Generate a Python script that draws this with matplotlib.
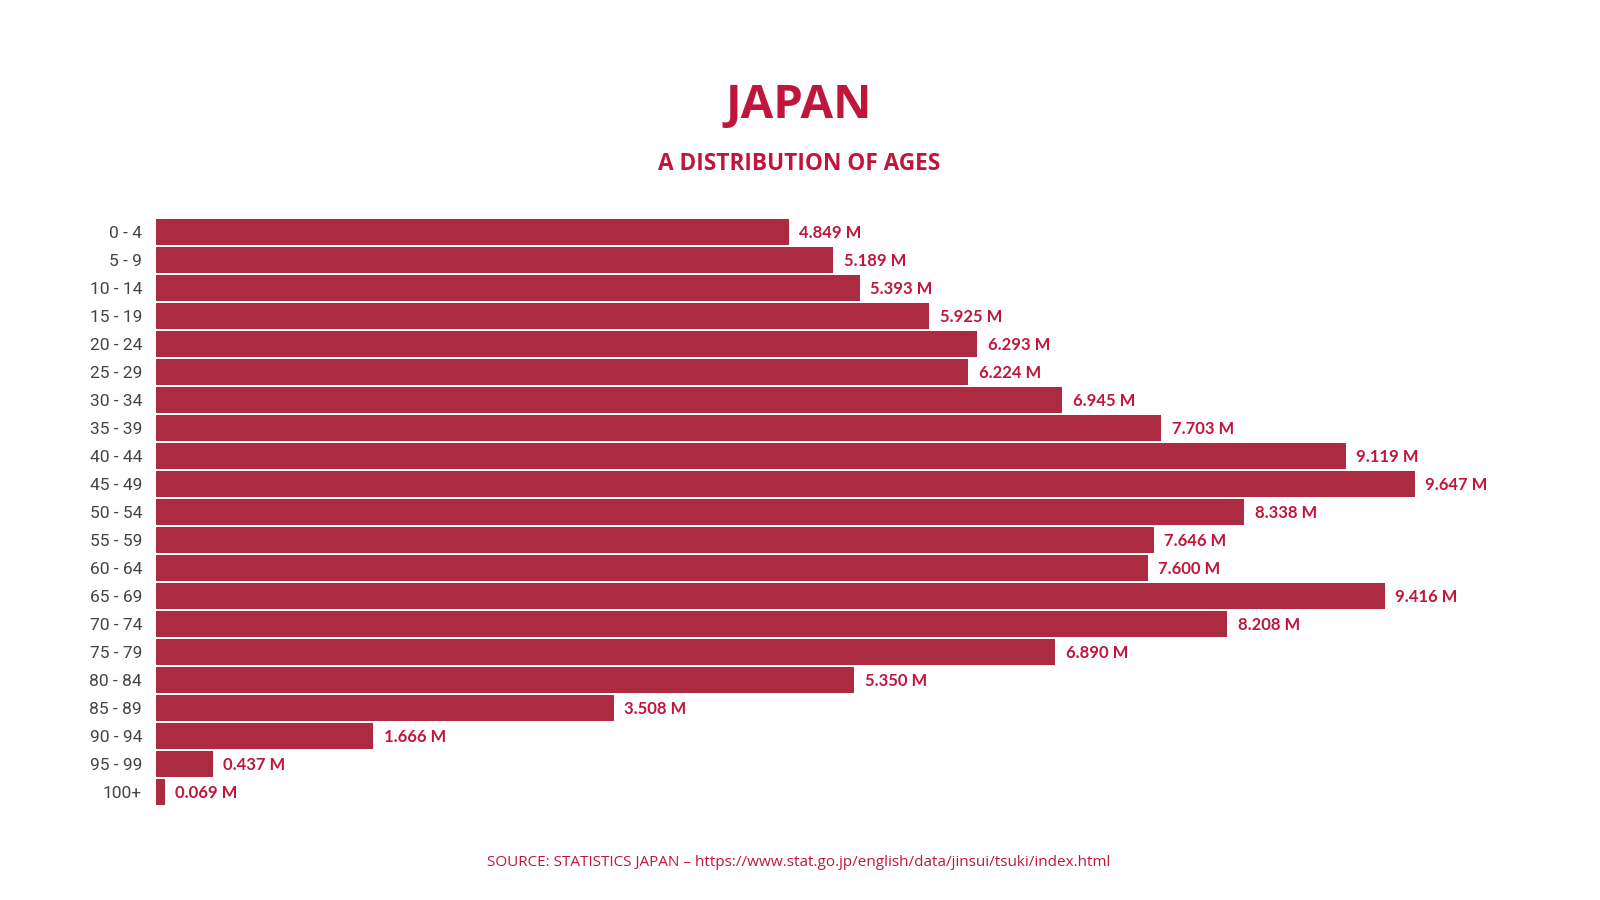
import matplotlib
matplotlib.use("Agg")
import matplotlib.pyplot as plt

# age groups and population in millions
ages = ["0 - 4", "5 - 9", "10 - 14", "15 - 19", "20 - 24", "25 - 29", "30 - 34",
        "35 - 39", "40 - 44", "45 - 49", "50 - 54", "55 - 59", "60 - 64", "65 - 69",
        "70 - 74", "75 - 79", "80 - 84", "85 - 89", "90 - 94", "95 - 99", "100+"]
population = [4.849, 5.189, 5.393, 5.925, 6.293, 6.224, 6.945, 7.703, 9.119, 9.647,
              8.338, 7.646, 7.600, 9.416, 8.208, 6.890, 5.350, 3.508, 1.666, 0.437, 0.069]

title = "JAPAN"
subtitle = "A DISTRIBUTION OF AGES"
source = "SOURCE: STATISTICS JAPAN \u2013 https://www.stat.go.jp/english/data/jinsui/tsuki/index.html"

bar_color = "#ad2b40"
text_red = "#c0163c"

fig = plt.figure(figsize=(16, 9), dpi=100)
# axes placed in pixel terms: left edge of bars at x=156, rows from y=218 to 806
ax = fig.add_axes([156/1600, 1-806/900, (1500-156)/1600, (806-218)/900])

ypos = list(range(len(ages)))
ax.barh(ypos, population, height=0.92, color=bar_color, zorder=2)
ax.set_ylim(len(ages)-0.5, -0.5)
ax.set_xlim(0, 1344/130.5)

for y, v in zip(ypos, population):
    ax.text(v + 0.08, y + 0.04, f"{v:.3f} M", va="center", ha="left",
            fontsize=12, fontweight="bold", family="Lato", color=text_red)

ax.set_yticks(ypos)
ax.set_yticklabels(ages, family="Roboto", fontsize=12.5, color="#444444")
ax.tick_params(axis="y", length=0, pad=10)
ax.set_xticks([])
for s in ax.spines.values():
    s.set_visible(False)

fig.text(799/1600, 1-106/900, title, ha="center", va="center", fontsize=34,
         fontweight="bold", family="Open Sans", color=text_red)
fig.text(799/1600, 1-164/900, subtitle, ha="center", va="center", fontsize=16.3,
         fontweight="bold", family="Open Sans", color=text_red)
fig.text(799/1600, 1-862/900, source, ha="center", va="center", fontsize=11,
         family="Open Sans", color=text_red)

fig.savefig("out.png", dpi=100, facecolor="white")
